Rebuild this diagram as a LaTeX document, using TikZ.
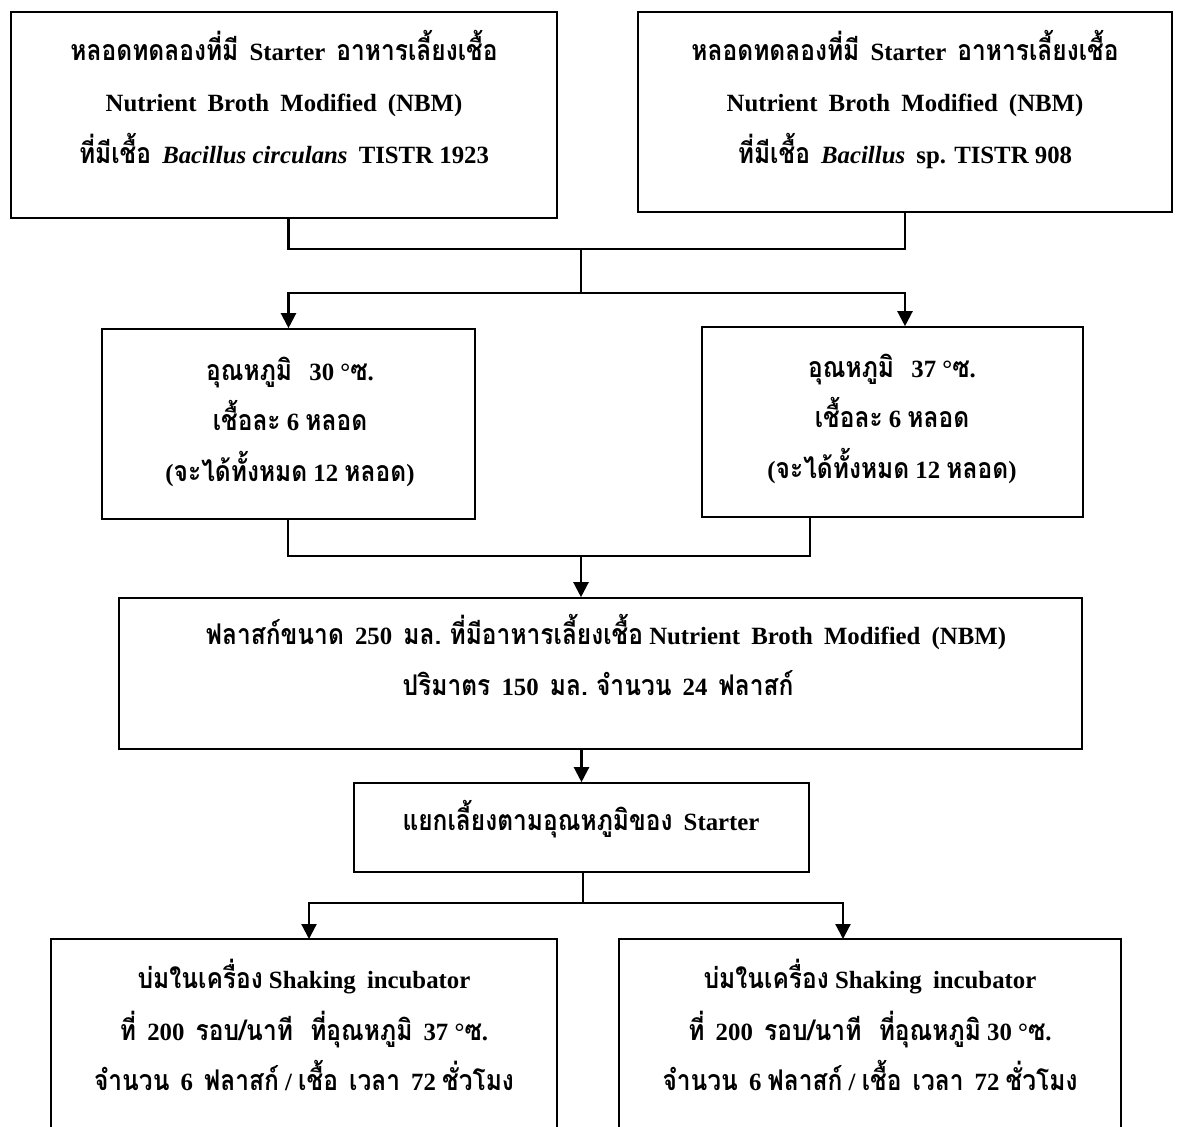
\documentclass[tikz,border=0pt]{standalone}
\usepackage{fontspec}
\setmainfont{Liberation Serif}
\newfontfamily\thaifont[Script=Thai,Scale=1.15,FakeStretch=0.86]{Loma}
\usetikzlibrary{arrows.meta}
% Thai runs are set in Loma, everything else in the serif main font
\newcommand\thx[1]{{\thaifont #1}}
\newcommand\gap{\hspace{0.45em}}

\begin{document}
\begin{tikzpicture}[x=0.5pt,y=-0.5pt,
  box/.style={draw, line width=0.8pt, rectangle, inner sep=0pt},
  ln/.style={inner sep=0pt, text height=8pt, text depth=0pt,
    font=\fontsize{12.4}{14}\selectfont\bfseries},
  wire/.style={line width=1.1pt},
  arr/.style={wire, -{Triangle[length=7.5pt,width=7.5pt]}},
]
\useasboundingbox (0,0) rectangle (1179,1126);
\clip (0,0) rectangle (1179,1126);
\fill[white] (0,0) rectangle (1179,1126);

% ---- boxes ----
\node[box, minimum width=273pt,   minimum height=103pt]  (a) at (284,115) {};
\node[box, minimum width=267pt,   minimum height=100pt]  (b) at (905,112) {};
\node[box, minimum width=186.5pt, minimum height=95pt]   (c) at (288.5,424) {};
\node[box, minimum width=190.5pt, minimum height=95pt]   (d) at (892.5,422) {};
\node[box, minimum width=481.5pt, minimum height=75.5pt] (e) at (600.5,673.5) {};
\node[box, minimum width=227.5pt, minimum height=44.5pt] (f) at (581.5,827.5) {};
\node[box, minimum width=253pt,   minimum height=105pt]  (g) at (304,1044) {};
\node[box, minimum width=251pt,   minimum height=105pt]  (h) at (870,1044) {};

% ---- texts ----
\node[ln] (a1) at (284,52)  {\thx{หลอดทดลองที่มี}\gap Starter\gap \thx{อาหารเลี้ยงเชื้อ}};
\node[ln] (a2) at (284,103) {Nutrient\gap Broth\gap Modified\gap (NBM)};
\node[ln] (a3) at (284,155) {\thx{ที่มีเชื้อ}\gap \textit{Bacillus circulans}\gap TISTR 1923};

\node[ln] (b1) at (905,52)  {\thx{หลอดทดลองที่มี}\gap Starter\gap \thx{อาหารเลี้ยงเชื้อ}};
\node[ln] (b2) at (905,103) {Nutrient\gap Broth\gap Modified\gap (NBM)};
\node[ln] (b3) at (905,155) {\thx{ที่มีเชื้อ}\gap \textit{Bacillus}\gap sp. TISTR 908};

\node[ln] (c1) at (290,372) {\thx{อุณหภูมิ}\gap\ 30 °\thx{ซ}.};
\node[ln] (c2) at (290,422) {\thx{เชื้อละ} 6 \thx{หลอด}};
\node[ln] (c3) at (290,473) {(\thx{จะได้ทั้งหมด} 12 \thx{หลอด})};

\node[ln] (d1) at (892,369) {\thx{อุณหภูมิ}\gap\ 37 °\thx{ซ}.};
\node[ln] (d2) at (892,419) {\thx{เชื้อละ} 6 \thx{หลอด}};
\node[ln] (d3) at (892,470) {(\thx{จะได้ทั้งหมด} 12 \thx{หลอด})};

\node[ln] (e1) at (606,636) {\thx{ฟลาสก์ขนาด}\gap 250\gap \thx{มล.} \thx{ที่มีอาหารเลี้ยงเชื้อ} Nutrient\gap Broth\gap Modified\gap (NBM)};
\node[ln] (e2) at (598,687) {\thx{ปริมาตร}\gap 150\gap \thx{มล.} \thx{จำนวน}\gap 24\gap \thx{ฟลาสก์}};

\node[ln] (f1) at (581,822) {\thx{แยกเลี้ยงตามอุณหภูมิของ}\gap Starter};

\node[ln] (g1) at (304,980)  {\thx{บ่มในเครื่อง} Shaking\gap incubator};
\node[ln] (g2) at (304,1032) {\thx{ที่}\gap 200\gap \thx{รอบ/นาที}\gap\ \thx{ที่อุณหภูมิ}\gap 37 °\thx{ซ}.};
\node[ln] (g3) at (304,1082) {\thx{จำนวน}\gap 6\gap \thx{ฟลาสก์} / \thx{เชื้อ}\gap \thx{เวลา}\gap 72 \thx{ชั่วโมง}};

\node[ln] (h1) at (870,980)  {\thx{บ่มในเครื่อง} Shaking\gap incubator};
\node[ln] (h2) at (870,1032) {\thx{ที่}\gap 200\gap \thx{รอบ/นาที}\gap\ \thx{ที่อุณหภูมิ} 30 °\thx{ซ}.};
\node[ln] (h3) at (870,1082) {\thx{จำนวน}\gap 6 \thx{ฟลาสก์} / \thx{เชื้อ}\gap \thx{เวลา}\gap 72 \thx{ชั่วโมง}};

% ---- junctions ----
\coordinate (j1) at (581,249);
\coordinate (j2) at (581,293);
\coordinate (j3) at (581,556);
\coordinate (j4) at (583,903);
\coordinate (cOut) at (288,519);
\coordinate (dOut) at (810,517);
\coordinate (gIn) at (309,939);
\coordinate (hIn) at (843,939);

% ---- connectors ----
\draw[wire] (a.south -| c.north) |- (j1) -| (b.south);
\draw[wire] (j1) -- (j2);
\draw[arr] (j2) -| (c.north);
\draw[arr] (j2) -| (d.north -| b.south);
\draw[wire] (cOut) |- (j3) -| (dOut);
\draw[arr] (j3) -- (j3 |- e.north);
\draw[arr] (e.south -| f.north) -- (f.north);
\draw[wire] (f.south -| j4) -- (j4);
\draw[arr] (j4) -| (gIn);
\draw[arr] (j4) -| (hIn);
\end{tikzpicture}
\end{document}
